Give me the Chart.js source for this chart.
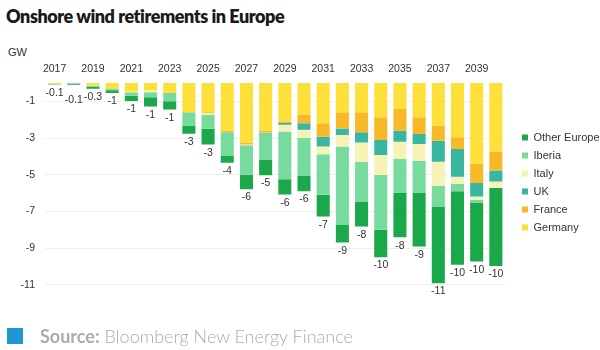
<!DOCTYPE html>
<html>
<head>
<meta charset="utf-8">
<script src="https://cdn.jsdelivr.net/npm/chart.js@4.4.0/dist/chart.umd.min.js"></script>
<style>
  html, body { margin: 0; padding: 0; background: #fff; }
  #wrap { position: relative; width: 600px; height: 350px; overflow: hidden; }
  #chart { position: absolute; left: 0; top: 0; }
  .title { position: absolute; left: 6px; top: 5px; font: 800 18px "Lato", "Open Sans", sans-serif; color: #1a1a1a; letter-spacing: -0.45px; }
  .unit { position: absolute; left: 8px; top: 46px; font: 11px "Liberation Sans", Arial, sans-serif; color: #333; }
  .source { position: absolute; left: 40px; top: 325px; font: 300 18px "Lato", "Open Sans", sans-serif; color: #ababab; }
  .source b { font-weight: 700; }
  .square { position: absolute; left: 7px; top: 328px; width: 16px; height: 16px; background: #1b98d5; }
</style>
</head>
<body>
<div id="wrap">
  <div class="title">Onshore wind retirements in Europe</div>
  <div class="unit">GW</div>
  <canvas id="chart" width="600" height="350"></canvas>
  <div class="square"></div>
  <div class="source"><b>Source:</b> Bloomberg New Energy Finance</div>
</div>
<script>
// values in GW (negative = retired)
const years = ["2017", "2018", "2019", "2020", "2021", "2022", "2023", "2024", "2025", "2026", "2027", "2028",
  "2029", "2030", "2031", "2032", "2033", "2034", "2035", "2036", "2037", "2038", "2039", "2040"];

const germany = [-0.06, 0, -0.15, -0.3, -0.46, -0.4, -0.55, -1.6, -1.6, -2.6, -3.25, -2.6,
  -2.1, -1.75, -2.2, -1.6, -1.6, -1.87, -1.42, -1.87, -2.33, -2.96, -4.42, -3.73];
const france = [0, 0, 0, 0, 0, 0, 0, 0, -0.05, -0.08, -0.1, -0.1,
  -0.08, -0.45, -0.73, -0.88, -1.09, -1.24, -1.18, -0.91, -0.82, -0.64, -1.04, -1.04];
const uk = [0, 0, 0, 0, 0, 0, 0, 0, 0, 0, 0, 0,
  -0.1, -0.35, -0.53, -0.36, -0.55, -0.82, -0.6, -0.55, -1.15, -1.51, -0.73, -0.6];
const italy = [0, 0, 0, 0, -0.04, -0.1, 0, 0, -0.1, 0, -0.05, 0,
  -0.37, -0.45, -0.42, -0.62, -1.05, -1.09, -0.95, -0.91, -1.31, -0.4, -0.18, -0.36];
const iberia = [-0.04, -0.04, -0.05, -0.1, -0.2, -0.28, -0.45, -0.74, -0.75, -1.3, -1.6, -1.5,
  -2.6, -2.05, -2.22, -4.28, -2.18, -2.98, -1.85, -1.73, -1.15, -0.4, -0.15, 0];
const otherEurope = [0, -0.06, -0.12, -0.15, -0.28, -0.5, -0.45, -0.43, -0.85, -0.37, -0.8, -0.83,
  -0.83, -0.85, -1.18, -0.96, -1.36, -1.51, -2.42, -2.95, -4.16, -4.0, -3.22, -4.25];

const totalLabels = ["-0.1", "-0.1", "-0.3", "-1", "-1", "-1", "-1", "-3", "-3", "-4", "-6", "-5",
  "-6", "-6", "-7", "-9", "-8", "-10", "-8", "-9", "-11", "-10", "-10", "-10"];

const yTicks = [-1, -3, -5, -7, -9, -11];

const textColor = "#333";
const axisFont = { family: "'Liberation Sans', Arial, sans-serif", size: 10.5 };

// writes the rounded total under each stacked bar; a label that would
// touch its left neighbour is dropped a few pixels (staggered)
const totalsPlugin = {
  id: "totals",
  afterDatasetsDraw(chart) {
    const { ctx, scales } = chart;
    ctx.save();
    ctx.font = "10.5px 'Liberation Sans', Arial, sans-serif";
    ctx.fillStyle = textColor;
    ctx.textAlign = "center";
    ctx.textBaseline = "top";
    let prev = null;
    years.forEach((year, i) => {
      let sum = 0;
      chart.data.datasets.forEach((ds) => { sum += ds.data[i]; });
      const x = scales.x.getPixelForValue(i);
      let y = scales.y.getPixelForValue(sum) + 3;
      const w = ctx.measureText(totalLabels[i]).width;
      let pushed = false;
      if (prev && !prev.pushed && x - w / 2 < prev.right + 3 && Math.abs(y - prev.y) < 11) {
        y = prev.y + 7;
        pushed = true;
      }
      ctx.fillText(totalLabels[i], x, y);
      prev = { right: x + w / 2, y, pushed };
    });
    ctx.restore();
  },
};

// moves the legend block to where it sits in the original
const legendShift = {
  id: "legendShift",
  afterLayout(chart) {
    const lg = chart.legend;
    if (!lg) return;
    const dx = 515 - lg.left;
    lg.left += dx;
    lg.right += dx;
    lg.top += 7;
    lg.bottom += 7;
  },
};

function makeSet(label, data, color) {
  return {
    label,
    data,
    backgroundColor: color,
    borderWidth: 0,
    categoryPercentage: 1,
    barPercentage: 0.68,
  };
}

new Chart(document.getElementById("chart"), {
  type: "bar",
  data: {
    labels: years,
    datasets: [
      makeSet("Germany", germany, "#fde03a"),
      makeSet("France", france, "#f7b928"),
      makeSet("UK", uk, "#38b6a2"),
      makeSet("Italy", italy, "#f7f2b6"),
      makeSet("Iberia", iberia, "#76db9c"),
      makeSet("Other Europe", otherEurope, "#1aa84a"),
    ],
  },
  options: {
    responsive: false,
    animation: false,
    layout: { padding: { top: 59, bottom: 58, right: 0 } },
    scales: {
      x: {
        position: "top",
        stacked: true,
        afterFit: (scale) => { scale.height = 24; },
        grid: { display: false, drawTicks: false },
        border: { display: false },
        ticks: {
          color: textColor,
          font: axisFont,
          padding: 8,
          autoSkip: false,
          maxRotation: 0,
          callback: (value, index) => (index % 2 === 0 ? years[index] : ""),
        },
      },
      y: {
        stacked: true,
        min: -11.4,
        max: 0,
        afterBuildTicks: (scale) => {
          scale.ticks = yTicks.map((v) => ({ value: v }));
        },
        afterFit: (scale) => { scale.width = 45; },
        grid: { color: "#efefef", drawTicks: false },
        border: { display: false },
        ticks: { color: textColor, font: axisFont, padding: 10 },
      },
    },
    plugins: {
      legend: {
        position: "right",
        reverse: true,
        labels: {
          color: textColor,
          font: { family: "'Liberation Sans', Arial, sans-serif", size: 11 },
          boxWidth: 6,
          boxHeight: 6,
          padding: 7,
        },
      },
      tooltip: { enabled: false },
    },
  },
  plugins: [totalsPlugin, legendShift],
});
</script>
</body>
</html>
